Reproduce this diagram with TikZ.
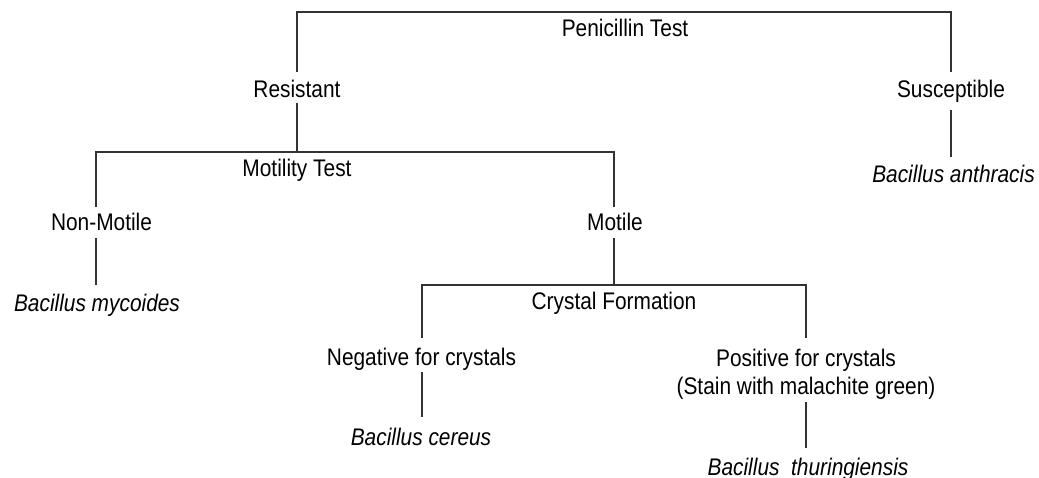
\documentclass[tikz,border=0pt]{standalone}
\usepackage{fontspec}
\setmainfont{Liberation Sans}[FakeStretch=0.87]
\begin{document}
\begin{tikzpicture}[x=1pt,y=-1pt,
  lbl/.style={anchor=base,inner sep=0pt,font=\fontsize{24}{28}\selectfont,align=center},
  sp/.style={lbl,font=\fontsize{24}{28}\selectfont\itshape},
  ln/.style={draw=black!80,line width=1.1pt}]
\useasboundingbox[fill=white] (0,0) rectangle (1039,478);
% text nodes
\node[lbl] (pen) at (625,37) {Penicillin Test};
\node[lbl] (res) at (297,98) {Resistant};
\node[lbl] (sus) at (951,97.5) {Susceptible};
\node[sp]  (ant) at (953.5,183) {Bacillus anthracis};
\node[lbl] (motT) at (297,176.7) {Motility Test};
\node[lbl] (non) at (101.5,231) {Non-Motile};
\node[lbl] (mot) at (615,230.7) {Motile};
\node[sp]  (myc) at (97,311.7) {Bacillus mycoides};
\node[lbl] (cry) at (614,310) {Crystal Formation};
\node[lbl] (neg) at (421.5,365.7) {Negative for crystals};
\node[sp]  (cer) at (421,445) {Bacillus cereus};
\node[lbl] (pos) at (806,394) {Positive for crystals\\(Stain with malachite green)};
\node[sp]  (thu) at (808,475) {Bacillus\ \ thuringiensis};
% connector end points
\coordinate (rT) at (297,72);   \coordinate (pTopBar) at (625,12);  \coordinate (sT) at (951,72);
\coordinate (rB) at (297,103);  \coordinate (mBar) at (297,152);
\coordinate (sB) at (951,110);  \coordinate (sE) at (951,157);
\coordinate (nT) at (96,207);   \coordinate (mT) at (614,207);
\coordinate (nB) at (96,238);   \coordinate (nE) at (96,285);
\coordinate (mB) at (614,238);  \coordinate (cBar) at (614,285);
\coordinate (gT) at (422,338);  \coordinate (pT) at (806,338);
\coordinate (gB) at (422,372);  \coordinate (gE) at (422,417);
\coordinate (pB) at (806,402);  \coordinate (pE) at (806,448);
% connectors
\draw[ln] (rT) |- (pTopBar) -| (sT);
\draw[ln] (rB) -- (mBar);
\draw[ln] (sB) -- (sE);
\draw[ln] (nT) |- (mBar) -| (mT);
\draw[ln] (nB) -- (nE);
\draw[ln] (mB) -- (cBar);
\draw[ln] (gT) |- (cBar) -| (pT);
\draw[ln] (gB) -- (gE);
\draw[ln] (pB) -- (pE);
\end{tikzpicture}
\end{document}
